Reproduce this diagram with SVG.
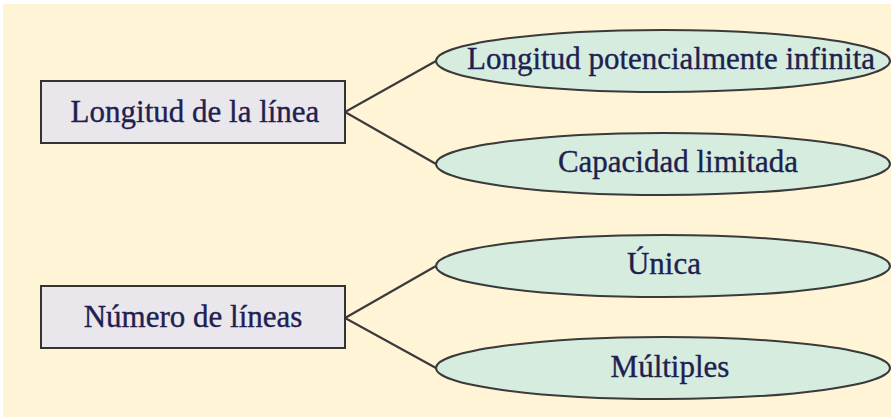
<svg xmlns="http://www.w3.org/2000/svg" width="891" height="417" viewBox="0 0 891 417">
<style>
.box{fill:#EAE7EC;stroke:#333;stroke-width:2}
.ell{fill:#D5ECDF;stroke:#3a3a3a;stroke-width:2}
.lbl{font-family:"Liberation Serif","Times New Roman",serif;font-size:31px;fill:#1E2150;stroke:#1E2150;stroke-width:0.35;text-anchor:middle}
.conn{stroke:#3a3a3a;stroke-width:2.2;fill:none}
</style>
<rect x="0" y="0" width="891" height="417" fill="#FFFFFF"/>
<rect x="3" y="4" width="888" height="413" fill="#FFF4D6"/>
<g id="connectors">
<polyline class="conn" points="436,61 345,112 436,164"/>
<polyline class="conn" points="436,266 345,318 436,368"/>
</g>
<g id="n1"><rect class="box" x="41" y="81" width="304" height="62"/><text class="lbl" x="195" y="122">Longitud de la línea</text></g>
<g id="n2"><rect class="box" x="41" y="286" width="304" height="62"/><text class="lbl" x="193" y="327">Número de líneas</text></g>
<g id="e1"><ellipse class="ell" cx="663" cy="61" rx="227" ry="31"/><text class="lbl" x="671" y="69">Longitud potencialmente infinita</text></g>
<g id="e2"><ellipse class="ell" cx="663" cy="164" rx="227" ry="31"/><text class="lbl" x="678" y="172">Capacidad limitada</text></g>
<g id="e3"><ellipse class="ell" cx="663" cy="266" rx="227" ry="31"/><text class="lbl" x="664" y="274">Única</text></g>
<g id="e4"><ellipse class="ell" cx="663" cy="368" rx="227" ry="31"/><text class="lbl" x="670" y="377">Múltiples</text></g>
</svg>
